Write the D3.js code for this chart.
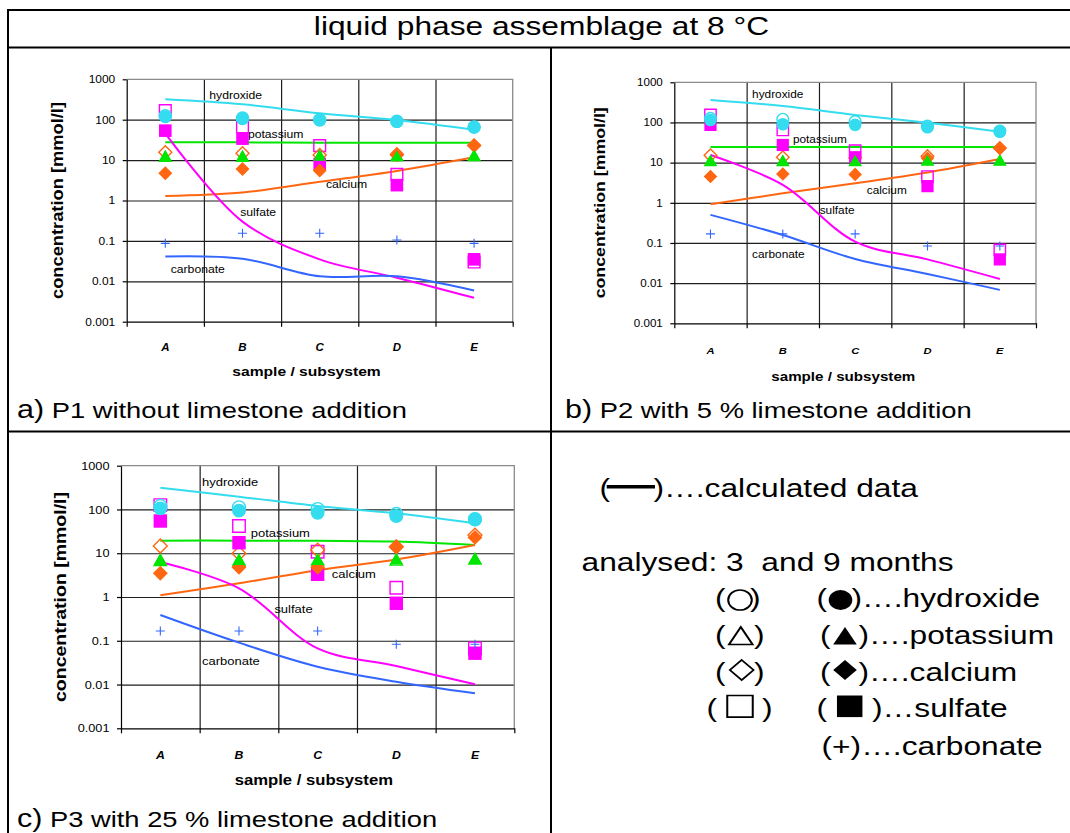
<!DOCTYPE html>
<html>
<head>
<meta charset="utf-8">
<script src="https://cdn.jsdelivr.net/npm/d3@7"></script>
<style>
    body { margin: 0; background: #fff; }
    svg { display: block; }
</style>
</head>
<body>
<div id="chart"></div>
<script>
// categories, ticks and species
var categories = ["A", "B", "C", "D", "E"];
var yTickValues = [0.001, 0.01, 0.1, 1, 10, 100, 1000];
var yTickLabels = ["0.001", "0.01", "0.1", "1", "10", "100", "1000"];
var species = ["hydroxide", "potassium", "calcium", "sulfate", "carbonate"];
var speciesColors = ["#33dcee", "#00e600", "#ff6611", "#ff00ff", "#3366ff"];
var speciesShapes = ["circle", "triangle", "diamond", "square"];

// P1 without limestone: calculated lines (hydroxide, potassium, calcium, sulfate, carbonate)
var p1Calc = [
    [320, 240, 144, 98, 56],
    [27.5, 27.5, 27, 27, 27],
    [1.29, 1.57, 2.9, 5.4, 11.7],
    [46, 0.3, 0.035, 0.0123, 0.0039],
    [0.041, 0.036, 0.0133, 0.0133, 0.0059]
];
// analysed after 3 months (open) and 9 months (filled): hydroxide, potassium, calcium, sulfate
var p1Months3 = [
    [125, 110, 100, 92, 66],
    [12, 12, 12.5, 12.5, 12.5],
    [15.6, 14.7, 13.4, 13.9, 23],
    [168, 67, 22.8, 4.45, 0.03]
];
var p1Months9 = [
    [119, 106, 98, 90, 65],
    [12.2, 12.2, 12.5, 12.2, 12.5],
    [4.7, 6.0, 5.5, 13.2, 23.2],
    [53.6, 34, 8.0, 2.4, 0.035]
];
var p1Carbonate = [0.087, 0.154, 0.154, 0.105, 0.087];
// line label anchors [category index, concentration]
var p1LabelAt = [[0.57, 332], [1.07, 34.7], [2.08, 2.0], [0.97, 0.42], [0.07, 0.0158]];

// P2 with 5 % limestone
var p2Calc = [
    [363, 258, 154, 99, 59],
    [24.5, 24.5, 24.5, 24.5, 24.5],
    [0.92, 1.72, 3.06, 5.7, 12.3],
    [15.5, 2.8, 0.108, 0.039, 0.0127],
    [0.5, 0.158, 0.04, 0.0169, 0.0068]
];
var p2Months3 = [
    [127, 120, 105, 81, 61],
    [10.7, 10.7, 10.7, 11, 11],
    [15.2, 13.6, 13, 14.5, 23],
    [154, 65, 19.9, 4.5, 0.067]
];
var p2Months9 = [
    [115, 90, 87, 76, 59],
    [11.2, 11.2, 11.2, 11.2, 11.2],
    [4.5, 5.2, 5.1, 12.8, 22.8],
    [87, 27.5, 13.6, 2.6, 0.039]
];
var p2Carbonate = [0.168, 0.168, 0.168, 0.084, 0.084];
var p2LabelAt = [[0.575, 400], [1.14, 30.3], [2.16, 1.63], [1.51, 0.518], [0.575, 0.043]];

// P3 with 25 % limestone
var p3Calc = [
    [314, 196, 120, 81.5, 48],
    [19.4, 19.4, 19.2, 18.5, 15.4],
    [1.09, 2.05, 4.1, 7.2, 15.4],
    [6.3, 1.58, 0.067, 0.0265, 0.0101],
    [0.388, 0.0906, 0.0256, 0.0116, 0.0063]
];
var p3Months3 = [
    [120, 112, 102, 79, 60],
    [6.7, 6.7, 6.8, 6.8, 7.2],
    [14.6, 9.9, 11.8, 14, 26],
    [126, 41.9, 10.8, 1.63, 0.067]
];
var p3Months9 = [
    [106, 94, 84, 71, 59],
    [7.0, 7.0, 7.0, 7.2, 7.4],
    [3.5, 4.8, 4.8, 14.1, 23],
    [54.5, 17.4, 3.3, 0.72, 0.052]
];
var p3Carbonate = [0.167, 0.167, 0.167, 0.083, 0.083];
var p3LabelAt = [[0.53, 343], [1.15, 23.9], [2.18, 2.67], [1.45, 0.424], [0.53, 0.028]];


var FONT = "'Liberation Sans', Arial, Helvetica, sans-serif";

var svg = d3.select("#chart")
    .append("svg")
    .attr("width", 1070)
    .attr("height", 833)
    .attr("font-family", FONT);

// text that is a little wider than the font, like the original
function stext(parent, x, y, str, size, sx) {
    return parent.append("text")
        .attr("transform", "translate(" + x + "," + y + ") scale(" + sx + ",1)")
        .attr("font-size", size)
        .attr("fill", "#000")
        .text(str);
}

function shapePath(type, r) {
    if (type === "circle") {
        return "M" + r + ",0A" + r + "," + r + " 0 1 1 " + (-r) + ",0A" + r + "," + r + " 0 1 1 " + r + ",0Z";
    }
    if (type === "square") {
        return "M" + (-r) + "," + (-r) + "H" + r + "V" + r + "H" + (-r) + "Z";
    }
    if (type === "diamond") {
        return "M0," + (-r) + "L" + r + ",0L0," + r + "L" + (-r) + ",0Z";
    }
    // triangle
    return "M0," + (-r) + "L" + r + "," + (0.75 * r) + "L" + (-r) + "," + (0.75 * r) + "Z";
}

var markerR = {circle: 6.5, triangle: 6.2, diamond: 7, square: 6.3};


// table frame
var frame = svg.append("g").attr("stroke", "#000").attr("stroke-width", 2).attr("fill", "none");
frame.append("path").attr("d", "M8,833V10H1072");
frame.append("path").attr("d", "M8,47.5H1072");
frame.append("path").attr("d", "M8,431.5H1072");
frame.append("path").attr("d", "M551,47.5V833");

stext(svg, 541.5, 34.7, "liquid phase assemblage at 8 °C", 26, 1.22)
    .attr("text-anchor", "middle");


function drawPanel(p) {
    var g = svg.append("g");
    var x = d3.scaleLinear().domain([-0.5, 4.5]).range([p.left, p.right]);
    var y = d3.scaleLog().domain([0.001, 1000]).range([p.bottom, p.top]);
    var w = p.right - p.left, h = p.bottom - p.top;
    var k = p.k;

    // gridlines
    g.append("g")
        .attr("transform", "translate(" + p.left + ",0)")
        .attr("color", "#1e1e1e")
        .call(d3.axisLeft(y).tickValues([0.01, 0.1, 1, 10, 100]).tickSize(-w).tickFormat(""))
        .call(function (s) { s.select(".domain").remove(); })
        .selectAll("line").attr("stroke-width", 1.2);

    g.append("g")
        .attr("transform", "translate(0," + p.bottom + ")")
        .attr("color", "#1e1e1e")
        .call(d3.axisBottom(x).tickValues([0.5, 1.5, 2.5, 3.5]).tickSize(-h).tickFormat(""))
        .call(function (s) { s.select(".domain").remove(); })
        .selectAll("line").attr("stroke-width", 1.2);

    // plot border top and right
    g.append("path")
        .attr("d", "M" + p.left + "," + p.top + "H" + p.right + "V" + p.bottom)
        .attr("fill", "none")
        .attr("stroke", "#8a8a8a")
        .attr("stroke-width", 1.3);

    // Y axis
    var yAxis = g.append("g")
        .attr("transform", "translate(" + p.left + ",0)")
        .attr("color", "#000")
        .call(d3.axisLeft(y)
            .tickValues(yTickValues)
            .tickFormat(function (d) { return yTickLabels[yTickValues.indexOf(d)]; })
            .tickSize(4)
            .tickSizeOuter(0)
            .tickPadding(6));
    yAxis.attr("font-family", FONT);
    yAxis.selectAll("line, path").attr("stroke-width", 1.2);
    yAxis.selectAll("text")
        .attr("font-size", 10.4 * k)
        .attr("transform", "scale(1.15,1)");

    // X axis
    var xAxis = g.append("g")
        .attr("transform", "translate(0," + p.bottom + ")")
        .attr("color", "#000")
        .call(d3.axisBottom(x)
            .tickValues([-0.5, 0.5, 1.5, 2.5, 3.5, 4.5])
            .tickFormat("")
            .tickSize(5)
            .tickSizeOuter(0));
    xAxis.selectAll("line, path").attr("stroke-width", 1.2);

    categories.forEach(function (c, i) {
        stext(g, x(i), p.bottom + p.catDy, c, 10 * k, 1.15)
            .attr("text-anchor", "middle")
            .attr("font-weight", "bold")
            .attr("font-style", "italic");
    });

    stext(g, p.xTitleX, p.bottom + p.titleDy, "sample / subsystem", 13.6 * k, 1.15)
        .attr("text-anchor", "middle")
        .attr("font-weight", "bold");

    g.append("text")
        .attr("transform", "translate(" + p.yTitleX + "," + ((p.top + p.bottom) / 2) + ") rotate(-90) scale(1.15,1)")
        .attr("text-anchor", "middle")
        .attr("font-size", 15.9 * k)
        .attr("font-weight", "bold")
        .text("concentration [mmol/l]");

    // calculated lines
    var line = d3.line()
        .x(function (d, i) { return x(i); })
        .y(function (d) { return y(d); })
        .curve(d3.curveCatmullRom.alpha(0.5));

    p.calc.forEach(function (vals, s) {
        g.append("path")
            .datum(vals)
            .attr("d", line)
            .attr("fill", "none")
            .attr("stroke", speciesColors[s])
            .attr("stroke-width", 2);
    });

    // line labels
    p.labelAt.forEach(function (pos, s) {
        stext(g, x(pos[0]), y(pos[1]), species[s], 10.6 * k, 1.15);
    });

    // analysed values: open (3 months) first, then filled (9 months)
    var order = [3, 2, 1, 0];
    order.forEach(function (s) {
        var shape = speciesShapes[s];
        g.selectAll(null)
            .data(p.open[s])
            .join("path")
            .attr("transform", function (d, i) { return "translate(" + x(i) + "," + y(d) + ")"; })
            .attr("d", shapePath(shape, markerR[shape] * 0.93 * k))
            .attr("fill", "none")
            .attr("stroke", speciesColors[s])
            .attr("stroke-width", 1.4);
    });
    order.forEach(function (s) {
        var shape = speciesShapes[s];
        g.selectAll(null)
            .data(p.filled[s])
            .join("path")
            .attr("transform", function (d, i) { return "translate(" + x(i) + "," + y(d) + ")"; })
            .attr("d", shapePath(shape, markerR[shape] * k))
            .attr("fill", speciesColors[s]);
    });

    // carbonate crosses
    g.selectAll(null)
        .data(p.plus)
        .join("path")
        .attr("transform", function (d, i) { return "translate(" + x(i) + "," + y(d) + ")"; })
        .attr("d", "M-4.5,0H4.5M0,-4.5V4.5")
        .attr("stroke", speciesColors[4])
        .attr("stroke-width", 1.1);
}

var panels = [
    {left: 126.7, top: 79.3, right: 512.7, bottom: 321.7, k: 1, catDy: 29, titleDy: 54,
        xTitleX: 306.5, yTitleX: 62.5,
        calc: p1Calc, open: p1Months3, filled: p1Months9, plus: p1Carbonate, labelAt: p1LabelAt},
    {left: 674.3, top: 82.3, right: 1036, bottom: 323.3, k: 0.97, catDy: 30.7, titleDy: 57.7,
        xTitleX: 843.3, yTitleX: 604.5,
        calc: p2Calc, open: p2Months3, filled: p2Months9, plus: p2Carbonate, labelAt: p2LabelAt},
    {left: 121, top: 465.7, right: 514.3, bottom: 728.3, k: 1.066, catDy: 30.7, titleDy: 56.7,
        xTitleX: 313.8, yTitleX: 66,
        calc: p3Calc, open: p3Months3, filled: p3Months9, plus: p3Carbonate, labelAt: p3LabelAt}
];
panels.forEach(drawPanel);

// panel captions
function caption(x, y, letter, rest) {
    var t = svg.append("text")
        .attr("transform", "translate(" + x + "," + y + ") scale(1.22,1)")
        .attr("fill", "#000");
    t.append("tspan").attr("font-size", 25).text(letter);
    t.append("tspan").attr("font-size", 22.4).text(rest);
}
caption(17, 418.3, "a)", " P1 without limestone addition");
caption(565, 418.3, "b)", " P2 with 5 % limestone addition");
caption(17, 827, "c)", " P3 with 25 % limestone addition");


// legend
var leg = svg.append("g");
var LS = 26, LSX = 1.22;

stext(leg, 599.5, 497.3, "(", LS, LSX);
leg.append("line")
    .attr("x1", 606.7).attr("x2", 655)
    .attr("y1", 486.7).attr("y2", 486.7)
    .attr("stroke", "#000")
    .attr("stroke-width", 3.5);
stext(leg, 653.5, 497.3, ")….calculated data", LS, LSX);

stext(leg, 581.5, 570.7, "analysed: 3  and 9 months", LS, LSX)
    .style("white-space", "pre");

var legendRows = [
    {base: 606.7, cy: 600, open: [715, 740, 750], filled: [816.5, 840.5, 851.5], rest: ")….", r: 10},
    {base: 644, cy: 637, open: [715, 740.8, 754], filled: [820, 845, 858.5], rest: ")….", r: 10},
    {base: 680.7, cy: 670, open: [715, 741.7, 754], filled: [820, 845, 858.5], rest: ")….", r: 10},
    {base: 717, cy: 706.3, open: [706.5, 740, 762], filled: [816.5, 849.7, 872], rest: ")…", r: 10.8}
];

legendRows.forEach(function (row, s) {
    var shape = speciesShapes[s];
    stext(leg, row.open[0], row.base, "(", LS, LSX);
    leg.append("path")
        .attr("transform", "translate(" + row.open[1] + "," + row.cy + ") scale(1.18,1)")
        .attr("d", shapePath(shape, row.r))
        .attr("fill", "none")
        .attr("stroke", "#000")
        .attr("stroke-width", 1.7);
    stext(leg, row.open[2], row.base, ")", LS, LSX);

    stext(leg, row.filled[0], row.base, "(", LS, LSX);
    leg.append("path")
        .attr("transform", "translate(" + row.filled[1] + "," + row.cy + ") scale(1.18,1)")
        .attr("d", shapePath(shape, row.r))
        .attr("fill", "#000");
    stext(leg, row.filled[2], row.base, row.rest + species[s], LS, LSX);
});

stext(leg, 821.5, 755, "(+)…." + species[4], LS, LSX);
</script>
</body>
</html>
